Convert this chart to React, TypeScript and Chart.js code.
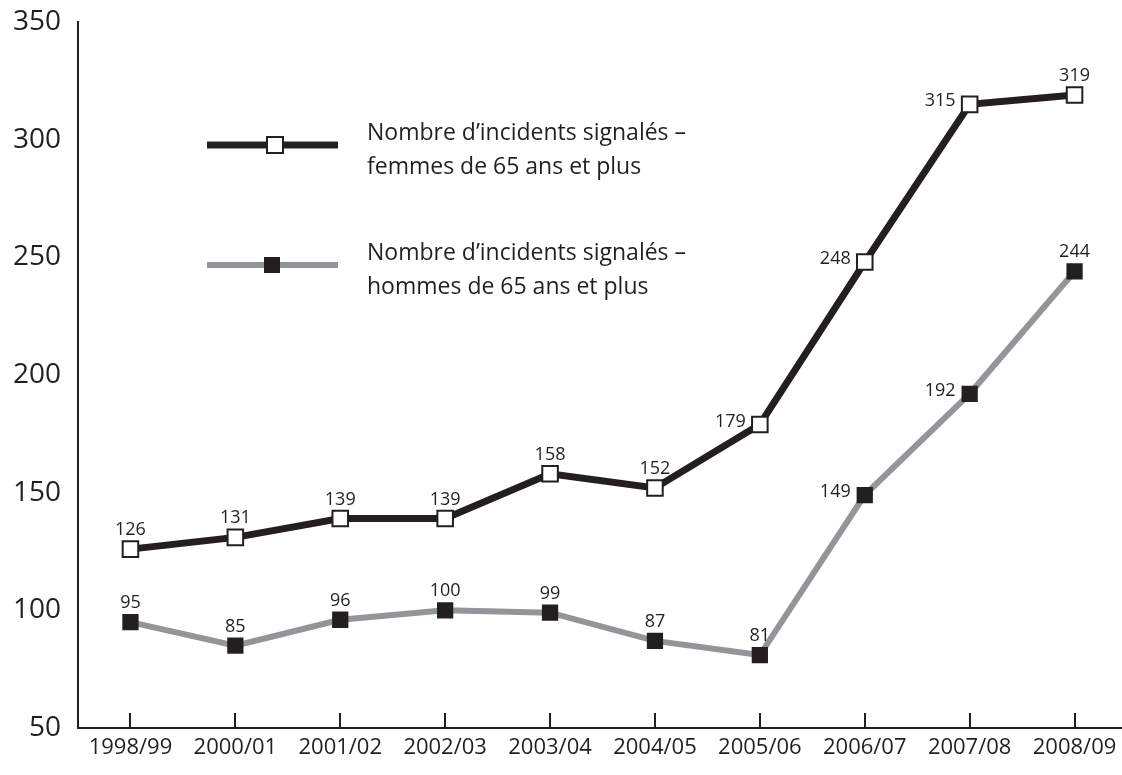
import React, { useEffect, useRef } from "react";
import { Chart, registerables } from "chart.js";

Chart.register(...registerables);

const categories = ["1998/99", "2000/01", "2001/02", "2002/03", "2003/04", "2004/05", "2005/06", "2006/07", "2007/08", "2008/09"];
const femmes = [126, 131, 139, 139, 158, 152, 179, 248, 315, 319];
const hommes = [95, 85, 96, 100, 99, 87, 81, 149, 192, 244];
const yTicks = [50, 100, 150, 200, 250, 300, 350];
const femmesLabel = ["Nombre d\u2019incidents signal\u00e9s \u2013", "femmes de 65 ans et plus"];
const hommesLabel = ["Nombre d\u2019incidents signal\u00e9s \u2013", "hommes de 65 ans et plus"];
// label placement (style, not data)
const femmesPlace = ["top", "top", "top", "top", "top", "top", "left", "left", "left", "top"];
const hommesPlace = ["top", "top", "top", "top", "top", "top", "top", "left", "left", "top"];

const FONT = "'Open Sans', 'Liberation Sans', sans-serif";
const DARK = "#231f20";
const GREY = "#939598";

const extrasPlugin = {
  id: "extras",
  afterDatasetsDraw(chart: any) {
    const ctx = chart.ctx;
    const xs = chart.scales.x;
    const bottom = chart.chartArea.bottom;
    ctx.save();
    // extend the x axis line to the right edge
    ctx.strokeStyle = DARK;
    ctx.lineWidth = 2;
    ctx.beginPath();
    ctx.moveTo(chart.chartArea.right - 2, bottom);
    ctx.lineTo(chart.width, bottom);
    ctx.stroke();
    // inward tick marks on x axis
    categories.forEach((_, i) => {
      const x = Math.round(xs.getPixelForValue(i));
      ctx.beginPath();
      ctx.moveTo(x, bottom);
      ctx.lineTo(x, bottom - 15);
      ctx.stroke();
    });
    // data labels
    ctx.fillStyle = DARK;
    ctx.font = `18px ${FONT}`;
    const drawLabels = (vals: number[], places: string[], di: number) => {
      const meta = chart.getDatasetMeta(di);
      vals.forEach((v, i) => {
        const pt = meta.data[i];
        if (places[i] === "left") {
          ctx.textAlign = "right";
          ctx.textBaseline = "middle";
          ctx.fillText(String(v), pt.x - 14, pt.y - 3);
        } else {
          ctx.textAlign = "center";
          ctx.textBaseline = "alphabetic";
          ctx.fillText(String(v), pt.x, pt.y - 14);
        }
      });
    };
    drawLabels(femmes, femmesPlace, 0);
    drawLabels(hommes, hommesPlace, 1);

    // legend
    const drawLegend = (y: number, color: string, lw: number, fill: string, text: string[], mx: number) => {
      ctx.strokeStyle = color;
      ctx.lineWidth = lw;
      ctx.beginPath();
      ctx.moveTo(207, y);
      ctx.lineTo(338, y);
      ctx.stroke();
      ctx.fillStyle = fill;
      ctx.fillRect(mx - 8, y - 8, 16, 16);
      if (fill === "#ffffff") {
        ctx.strokeStyle = DARK;
        ctx.lineWidth = 2;
        ctx.strokeRect(mx - 8, y - 8, 16, 16);
      }
      ctx.fillStyle = DARK;
      ctx.font = `23px ${FONT}`;
      ctx.textAlign = "left";
      ctx.textBaseline = "middle";
      ctx.fillText(text[0], 367, y - 12);
      ctx.fillText(text[1], 367, y + 22);
    };
    drawLegend(145, DARK, 7, "#ffffff", femmesLabel, 275);
    drawLegend(265, GREY, 6, DARK, hommesLabel, 272);
    ctx.restore();
  },
};

export default function App() {
  const ref = useRef<HTMLCanvasElement>(null);
  useEffect(() => {
    if (!ref.current) return;
    const chart = new Chart(ref.current, {
      type: "line",
      data: {
        labels: categories,
        datasets: [
          {
            label: femmesLabel.join(" "),
            data: femmes,
            borderColor: DARK,
            borderWidth: 7,
            pointStyle: "rect",
            pointRadius: 11,
            pointBackgroundColor: "#ffffff",
            pointBorderColor: DARK,
            pointBorderWidth: 2,
            tension: 0,
          },
          {
            label: hommesLabel.join(" "),
            data: hommes,
            borderColor: GREY,
            borderWidth: 6,
            pointStyle: "rect",
            pointRadius: 11.5,
            pointBackgroundColor: DARK,
            pointBorderColor: DARK,
            pointBorderWidth: 0,
            tension: 0,
          },
        ],
      },
      options: {
        animation: false,
        responsive: false,
        layout: { padding: { top: 22, left: 0, right: 0, bottom: 0 } },
        plugins: { legend: { display: false }, tooltip: { enabled: false } },
        scales: {
          x: {
            type: "category",
            offset: true,
            afterFit: (s: any) => { s.height = 47; s.paddingLeft = 0; s.paddingRight = 0; },
            grid: { display: false, drawTicks: false },
            border: { display: true, color: DARK, width: 2 },
            ticks: { color: DARK, font: { family: FONT, size: 22 }, padding: 7, maxRotation: 0, autoSkip: false },
          },
          y: {
            min: 50,
            max: 350,
            afterFit: (s: any) => { s.width = 78; s.paddingTop = 0; s.paddingBottom = 0; },
            afterBuildTicks: (s: any) => { s.ticks = yTicks.map((v) => ({ value: v })); },
            grid: { display: false, drawTicks: false },
            border: { display: true, color: DARK, width: 2 },
            ticks: { color: DARK, font: { family: FONT, size: 28 }, padding: 17 },
          },
        },
      },
      plugins: [extrasPlugin],
    });
    return () => chart.destroy();
  }, []);
  return (
    <div style={{ position: "fixed", left: 0, top: 0, width: 1122, height: 775, overflow: "hidden", background: "#fff" }}>
      <canvas ref={ref} width={1140} height={775} style={{ display: "block" }} />
    </div>
  );
}
